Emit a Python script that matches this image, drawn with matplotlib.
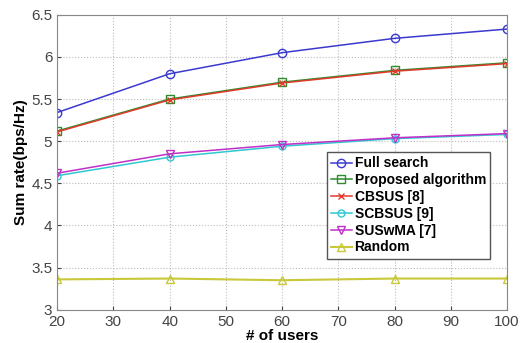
from matplotlib import pyplot as plt

users = [20, 40, 60, 80, 100]
full_search = [5.34, 5.80, 6.05, 6.22, 6.33]
proposed = [5.12, 5.50, 5.70, 5.84, 5.93]
cbsus = [5.11, 5.49, 5.69, 5.83, 5.92]
scbsus = [4.59, 4.81, 4.94, 5.03, 5.08]
suswma = [4.62, 4.85, 4.96, 5.04, 5.09]
random_sel = [3.36, 3.37, 3.35, 3.37, 3.37]

plt.rcParams['font.family'] = ['Liberation Sans', 'DejaVu Sans']

fig = plt.figure(figsize=(5.2, 3.43), dpi=100)
ax = fig.add_axes([0.11, 0.097, 0.865, 0.86])

ax.plot(users, full_search, color='#3a3ad0', marker='o', mfc='none', ms=6, lw=1.1, label='Full search')
ax.plot(users, proposed, color='#2e8b2e', marker='s', mfc='none', ms=6, lw=1.1, label='Proposed algorithm')
ax.plot(users, cbsus, color='#e03a2a', marker='x', ms=4, lw=1.1, label='CBSUS [8]')
ax.plot(users, scbsus, color='#30c8d0', marker='o', mfc='none', ms=5, lw=1.1, label='SCBSUS [9]')
ax.plot(users, suswma, color='#c030c8', marker='v', mfc='none', ms=6, lw=1.1, label='SUSwMA [7]')
ax.plot(users, random_sel, color='#c8c83a', marker='^', mfc='none', ms=6, lw=1.5, label='Random')

ax.set_xlim(20, 100)
ax.set_ylim(3, 6.5)
ax.set_xticks(range(20, 101, 10))
ax.set_yticks([3, 3.5, 4, 4.5, 5, 5.5, 6, 6.5])
ax.set_yticklabels(['3', '3.5', '4', '4.5', '5', '5.5', '6', '6.5'])
ax.tick_params(labelsize=11, colors='#444444', direction='in', length=3)
ax.grid(True, linestyle=':', color='#bbbbbb', lw=0.8)
for s in ax.spines.values():
    s.set_color('#888888')

ax.set_xlabel('# of users', fontsize=11, fontweight='bold', labelpad=0)
ax.set_ylabel('Sum rate(bps/Hz)', fontsize=11, fontweight='bold', labelpad=2)

leg = ax.legend(loc='lower right', bbox_to_anchor=(0.978, 0.15),
                prop={'weight': 'bold', 'size': 10}, handlelength=1.5,
                borderpad=0.3, labelspacing=0.2, handletextpad=0.2, fancybox=False,
                framealpha=1, edgecolor='#555555')

plt.savefig('out.png', dpi=100)
